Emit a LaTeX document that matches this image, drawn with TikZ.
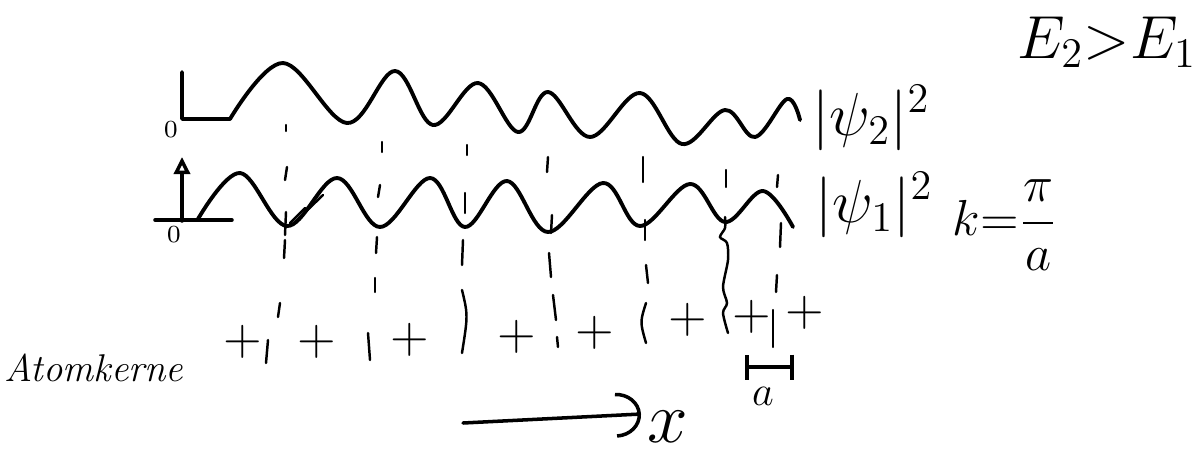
\documentclass[tikz,border=0pt]{standalone}
\usepackage{amsmath}
\usetikzlibrary{arrows.meta}

\begin{document}
\begin{tikzpicture}[x=0.01cm, y=-0.01cm,
  wave/.style={line width=1.1pt, line cap=round, line join=round},
  axis/.style={line width=1pt, line cap=round},
  guide/.style={line width=0.7pt, line cap=round},
  lbl/.style={inner sep=0pt, font=\fontsize{18}{20}\selectfont},
  small/.style={inner sep=0pt, font=\fontsize{13}{15}\selectfont},
  atom/.style={inner sep=0pt, font=\fontsize{15}{16}\selectfont},
  zero/.style={inner sep=0pt, font=\fontsize{7}{8}\selectfont},
]
\useasboundingbox (0,0) rectangle (1200,457);

% |psi_2|^2
\draw[wave] (182,72) -- (182,119) -- (230,119) -- plot[smooth, tension=0.6] coordinates {
  (230,119) (283,63) (347,123) (395,71) (433,125) (478,83) (518,132) (548,92)
  (590,137) (640,93) (682,144) (725,110) (755,137) (787,99) (800,120)};
\node[zero] (zeroTwo) at (171,130) {0};
\node[lbl, anchor=west] (psiTwo) at (812,118) {$|\psi_2|^2$};

% |psi_1|^2
\draw[axis] (155,220) -- (232,220);
\draw[axis, -{Triangle[open, length=0.17cm, width=0.16cm]}] (182,221) -- (182,157);
\node[zero] (zeroOne) at (174,235) {0};
\draw[wave] plot[smooth, tension=0.6] coordinates {
  (198,219) (240,173) (287,226) (337,178) (380,227) (430,178) (465,227) (507,181)
  (548,232) (603,183) (640,226) (690,184) (725,222) (763,191) (793,227)};
\draw[guide] (290,223) -- (305,208);
\draw[guide] (295,222) -- (323,195);
\node[lbl, anchor=west] (psiOne) at (815,205) {$|\psi_1|^2$};
\node[inner sep=0pt, font=\fontsize{14}{16}\selectfont] (kval) at (1005,225) {$k{=}\dfrac{\pi}{a}$};

\node[inner sep=0pt, font=\fontsize{17}{19}\selectfont] (energy) at (1107,42) {$E_2{>}E_1$};

% dashed guides down to the chain
\foreach \xa/\ya/\xb/\yb in {
  286/125/286/131, 287/167/285/180, 286/212/285/235, 285/240/284/258, 280/303/278/317, 268/340/266/363,
  382/142/382/152, 380/185/378/197, 377/237/376/253, 375/278/375/292, 368/333/370/360,
  467/145/467/155, 465/193/465/213, 463/240/462/265,
  548/157/547/172, 552/215/551/233, 549/253/551/277, 553/295/556/320, 557/337/558/347,
  643/157/643/182, 645/220/645/240, 646/265/648/283,
  726/170/726/187,
  778/175/777/187, 781/223/780/247, 777/275/776/292, 773/310/773/347}
  \draw[guide] (\xa,\ya) -- (\xb,\yb);
\draw[guide] (462,290) .. controls (468,315) .. (462,353);
\draw[guide] (646,303) .. controls (640,322) .. (646,343);
\draw[guide] plot[smooth, tension=0.5] coordinates {
  (725,217) (725,228) (720,237) (727,243) (728,260) (723,287) (727,303) (723,313) (728,333)};

% atoms
\node[inner sep=0pt, font=\fontsize{11}{13}\selectfont] (chain) at (94,368) {\itshape Atomkerne};
\foreach \x/\y [count=\i] in {243/342, 317/342, 410/340, 517/337, 595/333, 688/320, 752/317, 805/313}
  \node[atom] (atom\i) at (\x,\y) {$+$};

% lattice constant
\coordinate (aLeft) at (745,367);
\coordinate (aRight) at (794,367);
\draw[axis, {Bar[width=0.25cm]}-{Bar[width=0.25cm]}] (aLeft) -- (aRight);
\node[small] (aLabel) at (763,396) {$a$};

% x direction
\coordinate (xStart) at (463,423);
\coordinate (xEnd) at (641,414);
\draw[axis, -{Arc Barb[length=0.25cm, width=0.45cm]}] (xStart) -- (xEnd);
\node[inner sep=0pt, font=\fontsize{21}{23}\selectfont] (xLabel) at (668,427) {$x$};
\end{tikzpicture}
\end{document}
